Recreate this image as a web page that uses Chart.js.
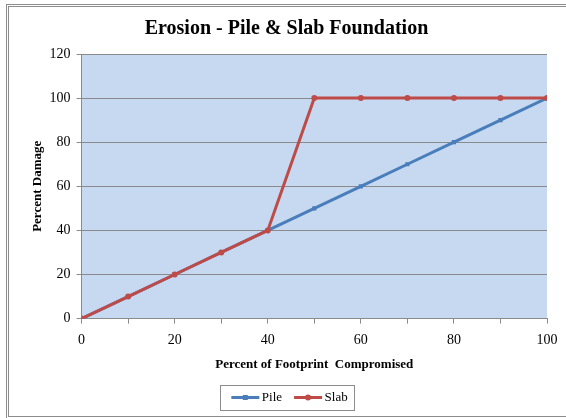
<!DOCTYPE html>
<html>
<head>
<meta charset="utf-8">
<script src="https://cdn.jsdelivr.net/npm/chart.js@4"></script>
<style>
  html, body { margin: 0; padding: 0; background: #fff; overflow: hidden; }
  #frame {
    position: absolute; left: 6px; top: 4px; width: 580px; height: 409px;
    border: 3px double #8c8c8c;
  }
  #wrap { position: absolute; left: 0; top: 0; width: 566px; height: 418px; }
</style>
</head>
<body>
<div id="frame"></div>
<div id="wrap"><canvas id="chart"></canvas></div>
<script>
const footprint = [0, 10, 20, 30, 40, 50, 60, 70, 80, 90, 100];
const pileDamage = [0, 10, 20, 30, 40, 50, 60, 70, 80, 90, 100];
const slabDamage = [0, 10, 20, 30, 40, 100, 100, 100, 100, 100, 100];
const seriesNames = ['Pile', 'Slab'];

const BLUE = '#4a7ebb';
const RED = '#be4b48';
const GRID = '#8a8a8a';
const FONT = "'Liberation Serif', 'Times New Roman', serif";

const toPoints = (ys) => footprint.map((x, i) => ({ x: x, y: ys[i] }));

// light blue fill behind the plot area only
const plotBackground = {
  id: 'plotBackground',
  beforeDraw(chart) {
    const { ctx, chartArea: a } = chart;
    ctx.save();
    ctx.fillStyle = '#c6d9f1';
    ctx.fillRect(a.left, a.top, a.right - a.left, a.bottom - a.top);
    ctx.restore();
  }
};

// legend: nudge it a little right, then draw box outline
// and a line-with-marker sample for each series
const legendBox = {
  id: 'legendBox',
  afterLayout(chart) {
    const lg = chart.legend;
    if (!lg) return;
    lg.left += 3;
    lg.right += 3;
  },
  afterDraw(chart) {
    const lg = chart.legend;
    if (!lg || !lg.legendHitBoxes) return;
    const ctx = chart.ctx;
    const boxes = lg.legendHitBoxes;
    const first = boxes[0], last = boxes[boxes.length - 1];
    ctx.save();
    ctx.strokeStyle = '#8c8c8c';
    ctx.lineWidth = 1;
    const x0 = first.left - 11, x1 = last.left + last.width + 7;
    const y0 = first.top - 6, y1 = first.top + first.height + 6;
    ctx.strokeRect(Math.round(x0) + 0.5, Math.round(y0) + 0.5, Math.round(x1 - x0), Math.round(y1 - y0));
    boxes.forEach((b, i) => {
      const ds = chart.data.datasets[i];
      const cy = b.top + b.height / 2;
      const lx0 = b.left, lx1 = b.left + 28;
      ctx.strokeStyle = ds.borderColor;
      ctx.lineWidth = 3;
      ctx.beginPath();
      ctx.moveTo(lx0, cy);
      ctx.lineTo(lx1, cy);
      ctx.stroke();
      ctx.fillStyle = ds.borderColor;
      ctx.beginPath();
      if (ds.pointStyle === 'rect') {
        ctx.rect((lx0 + lx1) / 2 - 2.5, cy - 2.5, 5, 5);
      } else {
        ctx.arc((lx0 + lx1) / 2, cy, 3, 0, Math.PI * 2);
      }
      ctx.fill();
    });
    ctx.restore();
  }
};

new Chart(document.querySelector('#chart').getContext('2d'), {
  type: 'line',
  data: {
    datasets: [
      {
        label: seriesNames[0],
        data: toPoints(pileDamage),
        borderColor: BLUE,
        backgroundColor: BLUE,
        borderWidth: 3,
        pointStyle: 'rect',
        pointRadius: 3,
        pointBorderWidth: 0,
        tension: 0,
        order: 2
      },
      {
        // slab drawn on top of pile where they overlap
        label: seriesNames[1],
        data: toPoints(slabDamage),
        borderColor: RED,
        backgroundColor: RED,
        borderWidth: 3,
        pointStyle: 'circle',
        pointRadius: 3,
        pointBorderWidth: 0,
        tension: 0,
        order: 1
      }
    ]
  },
  options: {
    responsive: true,
    maintainAspectRatio: false,
    animation: false,
    layout: { padding: { left: 26, right: 19, top: 10, bottom: 4 } },
    plugins: {
      title: {
        display: true,
        text: 'Erosion - Pile & Slab Foundation',
        color: '#000',
        font: { family: FONT, size: 20, weight: 'bold' },
        padding: { top: 7, bottom: 13 }
      },
      legend: {
        position: 'bottom',
        labels: {
          color: '#000',
          font: { family: FONT, size: 13 },
          boxWidth: 24,
          boxHeight: 8,
          padding: 12,
          generateLabels(chart) {
            return chart.data.datasets.map((ds, i) => ({
              text: ds.label,
              fillStyle: 'rgba(0,0,0,0)',
              strokeStyle: 'rgba(0,0,0,0)',
              lineWidth: 0,
              datasetIndex: i
            }));
          }
        }
      },
      tooltip: { enabled: false }
    },
    scales: {
      x: {
        type: 'linear',
        min: 0,
        max: 100,
        ticks: {
          stepSize: 10,
          color: '#000',
          font: { family: FONT, size: 14 },
          padding: 8,
          maxRotation: 0,
          callback: (v) => (v % 20 === 0 ? v : '')
        },
        grid: { drawOnChartArea: false, color: GRID, tickLength: 5, tickColor: GRID },
        border: { color: GRID, width: 1 },
        title: {
          display: true,
          text: 'Percent of Footprint  Compromised',
          color: '#000',
          font: { family: FONT, size: 13, weight: 'bold' },
          padding: { top: 0, bottom: 7 }
        }
      },
      y: {
        min: 0,
        max: 120,
        ticks: {
          stepSize: 20,
          color: '#000',
          font: { family: FONT, size: 14 },
          padding: 6
        },
        grid: { color: GRID, lineWidth: 1, tickLength: 5, tickColor: GRID },
        border: { color: GRID, width: 1 },
        title: {
          display: true,
          text: 'Percent Damage',
          color: '#000',
          font: { family: FONT, size: 13, weight: 'bold' },
          padding: { top: 4, bottom: -2 }
        }
      }
    }
  },
  plugins: [plotBackground, legendBox]
});
</script>
</body>
</html>
